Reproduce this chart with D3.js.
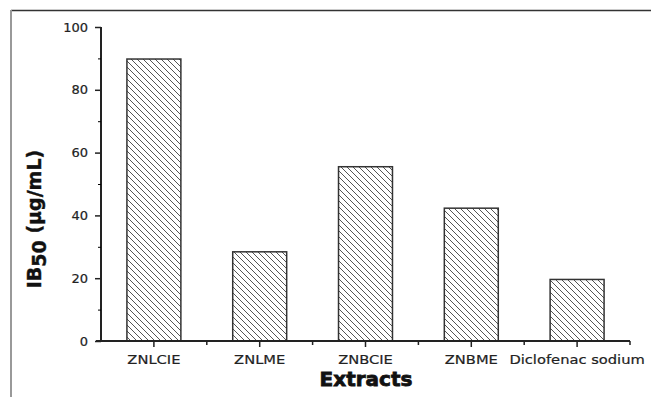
<!DOCTYPE html>
<html>
<head>
<meta charset="utf-8">
<script src="https://cdn.jsdelivr.net/npm/d3@7"></script>
<style>
	html, body { margin: 0; padding: 0; background: #fff; }
	svg { display: block; }
</style>
</head>
<body>
<div id="chart"></div>
<script>
var categories = ["ZNLCIE", "ZNLME", "ZNBCIE", "ZNBME", "Diclofenac sodium"];
var ib50 = [89.8, 28.4, 55.5, 42.3, 19.6];
var majorTicks = [0, 20, 40, 60, 80, 100];
var minorTicks = [10, 30, 50, 70, 90];

var width = 651,
	height = 397;

var svg = d3.select("#chart")
	.append("svg")
	.attr("width", width)
	.attr("height", height)
	.style("font-family", "'DejaVu Sans', sans-serif");

// hatch fill like the original
var defs = svg.append("defs");
defs.append("pattern")
	.attr("id", "hatch")
	.attr("patternUnits", "userSpaceOnUse")
	.attr("width", 6)
	.attr("height", 6)
	.append("path")
	.attr("d", "M-1,-1 L7,7 M-1,5 L1,7 M5,-1 L7,1")
	.attr("stroke", "#555")
	.attr("stroke-width", 1);

// outer frame (only top and left edges show)
svg.append("line")
	.attr("x1", 11).attr("y1", 10.5).attr("x2", width).attr("y2", 10.5)
	.attr("stroke", "#333").attr("stroke-width", 1.5);
svg.append("line")
	.attr("x1", 11).attr("y1", 10).attr("x2", 11).attr("y2", height)
	.attr("stroke", "#999").attr("stroke-width", 2);

var x = d3.scaleBand()
	.domain(categories)
	.range([101, 630])
	.padding(0);

var y = d3.scaleLinear()
	.domain([0, 100])
	.range([341, 27]);

var barW = x.bandwidth() * 0.51;

svg.selectAll("rect.bar")
	.data(categories)
	.join("rect")
	.attr("class", "bar")
	.attr("x", function (d) { return x(d) + (x.bandwidth() - barW) / 2; })
	.attr("y", function (d, i) { return y(ib50[i]); })
	.attr("width", barW)
	.attr("height", function (d, i) { return y(0) - y(ib50[i]); })
	.attr("fill", "url(#hatch)")
	.attr("stroke", "#333")
	.attr("stroke-width", 1.5);

// y axis
var yAxis = svg.append("g")
	.attr("transform", "translate(101,0)")
	.call(d3.axisLeft(y).tickValues(majorTicks).tickSize(6).tickPadding(7));

svg.append("g")
	.attr("transform", "translate(101,0)")
	.call(d3.axisLeft(y).tickValues(minorTicks).tickSize(3).tickFormat(""))
	.select(".domain").remove();

// x axis
var xAxis = svg.append("g")
	.attr("transform", "translate(0,341)")
	.call(d3.axisBottom(x).tickSize(6).tickSizeOuter(0).tickPadding(8));

var bounds = categories.map(function (d) { return x(d) + x.step(); });
svg.append("g")
	.attr("class", "minor-x")
	.selectAll("line")
	.data(bounds)
	.join("line")
	.attr("x1", function (d) { return d; })
	.attr("x2", function (d) { return d; })
	.attr("y1", 341)
	.attr("y2", 345)
	.attr("stroke", "#222")
	.attr("stroke-width", 1.5);

[yAxis, xAxis].forEach(function (g) {
	g.selectAll(".domain").attr("stroke", "#222").attr("stroke-width", 2);
	g.selectAll(".tick line").attr("stroke", "#222").attr("stroke-width", 1.5);
	g.selectAll(".tick text")
		.attr("fill", "#222")
		.attr("stroke", "#222")
		.attr("stroke-width", 0.2)
		.style("font-size", "13px")
		.style("font-family", "'DejaVu Sans', sans-serif");
});
xAxis.selectAll(".tick text").attr("transform", "scale(1.13,1)");
yAxis.select(".domain").attr("d", "M0,341V27");
xAxis.select(".domain").attr("d", "M96,0H630");

// axis titles
svg.append("text")
	.attr("x", 366)
	.attr("y", 386)
	.attr("text-anchor", "middle")
	.style("font-size", "20px")
	.style("font-weight", "bold")
	.attr("fill", "#111")
	.attr("stroke", "#111")
	.attr("stroke-width", 0.8)
	.text("Extracts");

var ylab = svg.append("text")
	.attr("transform", "translate(41,219) rotate(-90)")
	.attr("text-anchor", "middle")
	.style("font-size", "19px")
	.style("font-weight", "bold")
	.attr("fill", "#111")
	.attr("stroke", "#111")
	.attr("stroke-width", 0.4);
ylab.append("tspan").text("IB");
ylab.append("tspan").attr("dy", 5).text("50");
ylab.append("tspan").attr("dy", -5).text(" (µg/mL)");
</script>
</body>
</html>
